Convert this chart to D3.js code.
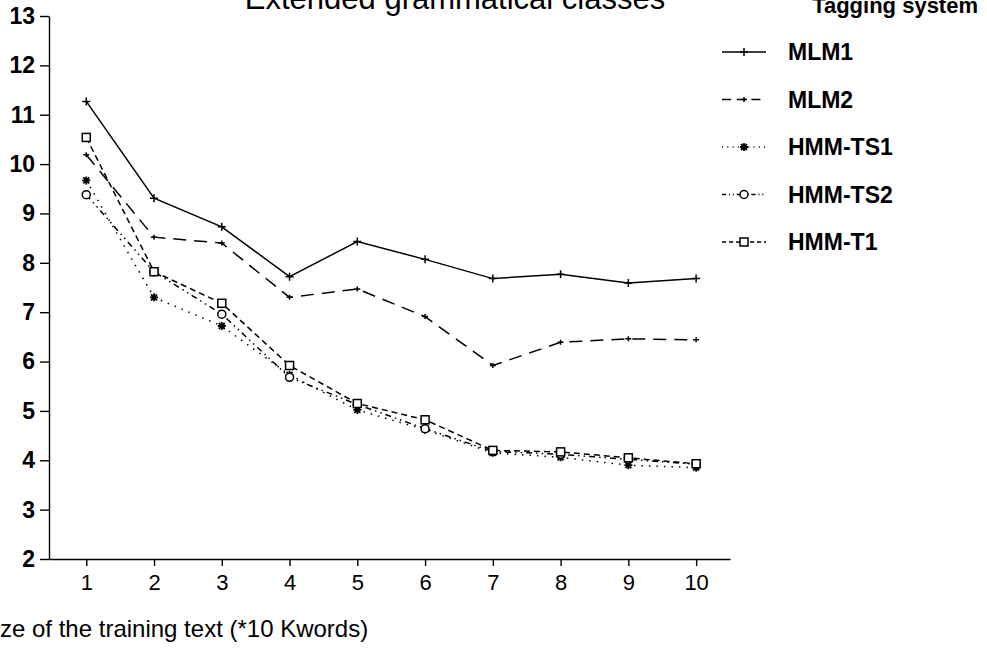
<!DOCTYPE html>
<html>
<head>
<meta charset="utf-8">
<script src="https://cdn.jsdelivr.net/npm/d3@7"></script>
<style>
  html, body { margin: 0; padding: 0; background: #fff; }
  svg { display: block; font-family: "Liberation Sans", Arial, sans-serif; }
</style>
</head>
<body>
<svg id="chart" width="987" height="650"></svg>
<script>
/* Chart data */
const trainingSizes = [1, 2, 3, 4, 5, 6, 7, 8, 9, 10];
const mlm1 = [11.27, 9.31, 8.73, 7.72, 8.43, 8.07, 7.68, 7.77, 7.59, 7.68];
const mlm2 = [10.19, 8.52, 8.40, 7.30, 7.47, 6.91, 5.92, 6.39, 6.46, 6.44];
const hmmTs1 = [9.67, 7.30, 6.72, 5.73, 5.02, 4.62, 4.15, 4.06, 3.90, 3.85];
const hmmTs2 = [9.38, 7.82, 6.96, 5.68, 5.13, 4.64, 4.18, 4.12, 4.02, 3.92];
const hmmT1 = [10.54, 7.82, 7.18, 5.92, 5.15, 4.82, 4.20, 4.17, 4.05, 3.93];
const yTicks = [2, 3, 4, 5, 6, 7, 8, 9, 10, 11, 12, 13];

// One entry per tagging system, in legend order
const systems = [
  { name: "MLM1", values: mlm1, dash: null, marker: "plus" },
  { name: "MLM2", values: mlm2, dash: "13,8", marker: "tick" },
  { name: "HMM-TS1", values: hmmTs1, dash: "1.5,6", marker: "star" },
  { name: "HMM-TS2", values: hmmTs2, dash: "6,4,1.5,4,1.5,4", marker: "circle" },
  { name: "HMM-T1", values: hmmT1, dash: "6,4", marker: "square" }
];

window.addEventListener("load", function() {
  drawChart();
});

function drawChart() {
  const svg = d3.select("svg#chart");

  // Axis lines sit at x=49 (left) and y=559 (bottom)
  const x = d3.scaleLinear().domain([0.45, 10.5]).range([49, 730]);
  const y = d3.scaleLinear().domain([2, 13]).range([559, 16]);

  // Y axis
  const yAxis = svg.append("g")
    .attr("transform", `translate(${x(0.45)},0)`)
    .call(d3.axisLeft(y).tickValues(yTicks).tickSize(9).tickSizeOuter(0).tickPadding(5));
  yAxis.selectAll("text")
    .attr("font-size", 23)
    .attr("font-weight", "bold")
    .attr("fill", "#000");

  // X axis
  const xAxis = svg.append("g")
    .attr("transform", `translate(0,${y(2)})`)
    .call(d3.axisBottom(x).tickValues(trainingSizes).tickSize(7).tickSizeOuter(0).tickPadding(8));
  xAxis.selectAll("text")
    .attr("font-size", 22)
    .attr("fill", "#000");

  svg.selectAll(".domain, .tick line")
    .attr("stroke", "#000")
    .attr("stroke-width", 1.4);

  // Series lines
  const line = d3.line()
    .x((d, i) => x(trainingSizes[i]))
    .y(d => y(d));

  systems.forEach(function(system) {
    svg.append("path")
      .datum(system.values)
      .attr("d", line)
      .attr("fill", "none")
      .attr("stroke", "#000")
      .attr("stroke-width", 1.5)
      .attr("stroke-dasharray", system.dash);

    system.values.forEach(function(v, i) {
      drawMarker(svg, system.marker, x(trainingSizes[i]), y(v));
    });
  });

  // Titles
  svg.append("text")
    .attr("x", 455)
    .attr("y", 9)
    .attr("text-anchor", "middle")
    .attr("font-size", 31)
    .text("Extended grammatical classes");

  svg.append("text")
    .attr("x", 978)
    .attr("y", 13)
    .attr("text-anchor", "end")
    .attr("font-size", 22)
    .attr("font-weight", "bold")
    .text("Tagging system");

  svg.append("text")
    .attr("x", 0)
    .attr("y", 637)
    .attr("font-size", 24)
    .text("ze of the training text (*10 Kwords)");

  // Legend
  const legend = svg.append("g");
  systems.forEach(function(system, i) {
    const rowY = 52 + i * 47.5;
    legend.append("line")
      .attr("x1", 722)
      .attr("x2", 766)
      .attr("y1", rowY)
      .attr("y2", rowY)
      .attr("stroke", "#000")
      .attr("stroke-width", 1.5)
      .attr("stroke-dasharray", system.dash ? system.dash.split(",").map(n => n * 0.7).join(",") : null);
    drawMarker(legend, system.marker, 744, rowY);
    legend.append("text")
      .attr("x", 788)
      .attr("y", rowY)
      .attr("dy", "0.36em")
      .attr("font-size", 23)
      .attr("font-weight", "bold")
      .text(system.name);
  });
}

/**
 * Draws one small black point marker centred at (cx, cy).
 * @param {d3.Selection} parent Where the marker is appended.
 * @param {string} kind One of "plus", "tick", "star", "circle", "square".
 */
function drawMarker(parent, kind, cx, cy) {
  const g = parent.append("g")
    .attr("transform", `translate(${cx},${cy})`)
    .attr("stroke", "#000")
    .attr("stroke-width", 1.5);

  if (kind === "plus") {
    g.append("path").attr("d", "M-4,0H4M0,-4V4");
  } else if (kind === "tick") {
    g.append("path").attr("d", "M-3,0H3M0,-2.5V2.5");
  } else if (kind === "star") {
    g.append("path")
      .attr("d", "M-4,0H4M0,-4V4M-3,-3L3,3M-3,3L3,-3")
      .attr("stroke-width", 1.8);
  } else if (kind === "circle") {
    g.append("circle").attr("r", 4).attr("fill", "#fff");
  } else if (kind === "square") {
    g.append("rect")
      .attr("x", -4)
      .attr("y", -4)
      .attr("width", 8)
      .attr("height", 8)
      .attr("fill", "#fff");
  }
}
</script>
</body>
</html>
